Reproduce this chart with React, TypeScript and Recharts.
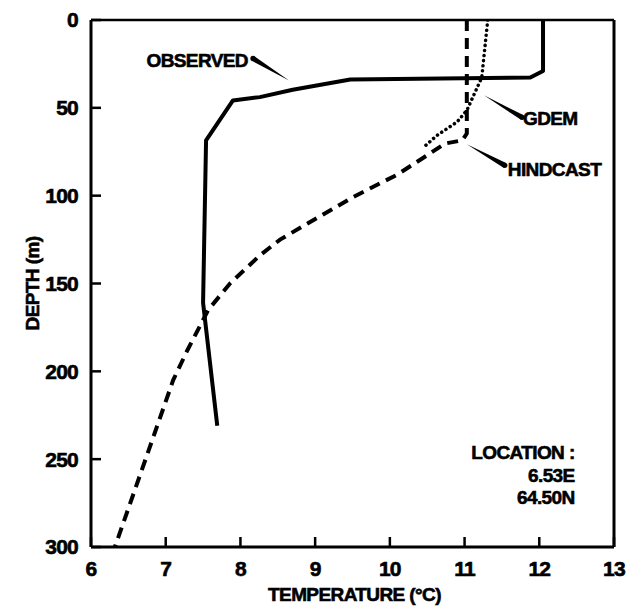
import React from 'react';
import { LineChart, Line, XAxis, YAxis, ReferenceLine, ReferenceDot } from 'recharts';

// temperature (°C) / depth (m) profiles
const observedTemp = [12.05, 12.05, 11.88, 9.47, 8.7, 8.26, 7.9, 7.54, 7.5, 7.69];
const observedDepth = [0, 29, 32.7, 33.9, 39.7, 43.9, 45.8, 68.5, 161, 231];

const hindcastTemp = [11.03, 11.03, 10.97, 10.74, 10.5, 10.1, 9.5, 8.53, 8.26, 7.86, 7.57, 7.29, 7.1, 6.32];
const hindcastDepth = [0, 64.6, 68.5, 70.3, 77, 88, 101, 125, 134, 150, 165, 188, 205, 300];

const gdemTemp = [11.31, 11.23, 11.03, 10.9, 10.63, 10.45];
const gdemDepth = [0, 32.7, 51.5, 58, 65.7, 72.5];

const tempTicks = [6, 7, 8, 9, 10, 11, 12, 13];
const depthTicks = [0, 50, 100, 150, 200, 250, 300];

const locationLines = ['LOCATION :', '6.53E', '64.50N'];

const toPoints = (temps: number[], depths: number[]) => temps.map((t, i) => ({ t, d: depths[i] }));

const observed = toPoints(observedTemp, observedDepth);
const hindcast = toPoints(hindcastTemp, hindcastDepth);
const gdem = toPoints(gdemTemp, gdemDepth);

const FONT = '"Liberation Sans", Arial, Helvetica, sans-serif';

// callout: tip sits on the curve, wedge widens toward the label
const callouts = [
  { label: 'OBSERVED', t: 8.65, d: 34.4, dx: -36, dy: -22, tx: -41, ty: -20, anchor: 'end' },
  { label: 'GDEM', t: 11.26, d: 42.9, dx: 38, dy: 22, tx: 39, ty: 23, anchor: 'start' },
  { label: 'HINDCAST', t: 11.03, d: 70.8, dx: 38, dy: 21, tx: 41, ty: 25, anchor: 'start' },
];

const textProps = {
  fontFamily: FONT,
  fontWeight: 700,
  fontSize: 19,
  letterSpacing: -0.6,
  fill: '#000',
  stroke: '#000',
  strokeWidth: 0.6,
};

const Callout = ({ cx, cy, c }: any) => {
  const len = Math.hypot(c.dx, c.dy);
  const px = (-c.dy / len) * 2.6;
  const py = (c.dx / len) * 2.6;
  const pts = `${cx},${cy} ${cx + c.dx + px},${cy + c.dy + py} ${cx + c.dx - px},${cy + c.dy - py}`;
  return (
    <g>
      <polygon points={pts} fill="#000" />
      <circle cx={cx + c.dx} cy={cy + c.dy} r={2.6} fill="#000" />
      <text x={cx + c.tx} y={cy + c.ty} dy="0.35em" textAnchor={c.anchor} {...textProps}>
        {c.label}
      </text>
    </g>
  );
};

const Location = ({ cx, cy }: any) => (
  <g>
    {locationLines.map((s, i) => (
      <text key={s} x={cx - 2} y={cy - 6.5 + i * 22.5} dy="0.35em" textAnchor="end" {...textProps}>
        {s}
      </text>
    ))}
  </g>
);

const tickStyle = {
  fill: '#000',
  fontSize: 21,
  fontWeight: 700,
  fontFamily: FONT,
  letterSpacing: -0.8,
  stroke: '#000',
  strokeWidth: 0.6,
};

export default function App() {
  return (
    <div style={{ position: 'absolute', left: 0, top: 0, background: '#fff' }}>
      <LineChart width={632} height={607} margin={{ top: 20, right: 18, bottom: 0, left: 0 }}>
        <XAxis
          type="number"
          dataKey="t"
          domain={[6, 13]}
          ticks={tempTicks}
          interval={0}
          allowDataOverflow
          height={60}
          tickSize={-10}
          tickMargin={24}
          axisLine={{ stroke: '#000', strokeWidth: 3 }}
          tickLine={{ stroke: '#000', strokeWidth: 2.5 }}
          tick={tickStyle}
          label={{ value: 'TEMPERATURE (°C)', position: 'insideBottom', offset: 6, dx: 2, ...textProps }}
        />
        <YAxis
          type="number"
          dataKey="d"
          domain={[0, 300]}
          ticks={depthTicks}
          interval={0}
          reversed
          allowDataOverflow
          width={91}
          tickSize={-10}
          tickMargin={23}
          axisLine={{ stroke: '#000', strokeWidth: 3 }}
          tickLine={{ stroke: '#000', strokeWidth: 2.5 }}
          tick={tickStyle}
          label={{ value: 'DEPTH (m)', angle: -90, position: 'center', dx: -13, ...textProps }}
        />
        <ReferenceLine y={0} stroke="#000" strokeWidth={2.5} />
        <ReferenceLine x={13} stroke="#000" strokeWidth={3} />

        <Line
          data={gdem}
          dataKey="d"
          type="linear"
          stroke="#000"
          strokeWidth={3.5}
          strokeDasharray="0.1 5"
          strokeLinecap="round"
          dot={false}
          activeDot={false}
          isAnimationActive={false}
        />
        <Line
          data={hindcast}
          dataKey="d"
          type="linear"
          stroke="#000"
          strokeWidth={4}
          strokeDasharray="11 7"
          dot={false}
          activeDot={false}
          isAnimationActive={false}
        />
        <Line
          data={observed}
          dataKey="d"
          type="linear"
          stroke="#000"
          strokeWidth={4}
          strokeLinejoin="round"
          dot={false}
          activeDot={false}
          isAnimationActive={false}
        />

        {callouts.map((c) => (
          <ReferenceDot
            key={c.label}
            x={c.t}
            y={c.d}
            r={0}
            ifOverflow="visible"
            shape={(p: any) => <Callout cx={p.cx} cy={p.cy} c={c} />}
          />
        ))}
        <ReferenceDot x={12.5} y={250} r={0} ifOverflow="visible" shape={(p: any) => <Location cx={p.cx} cy={p.cy} />} />
      </LineChart>
    </div>
  );
}
